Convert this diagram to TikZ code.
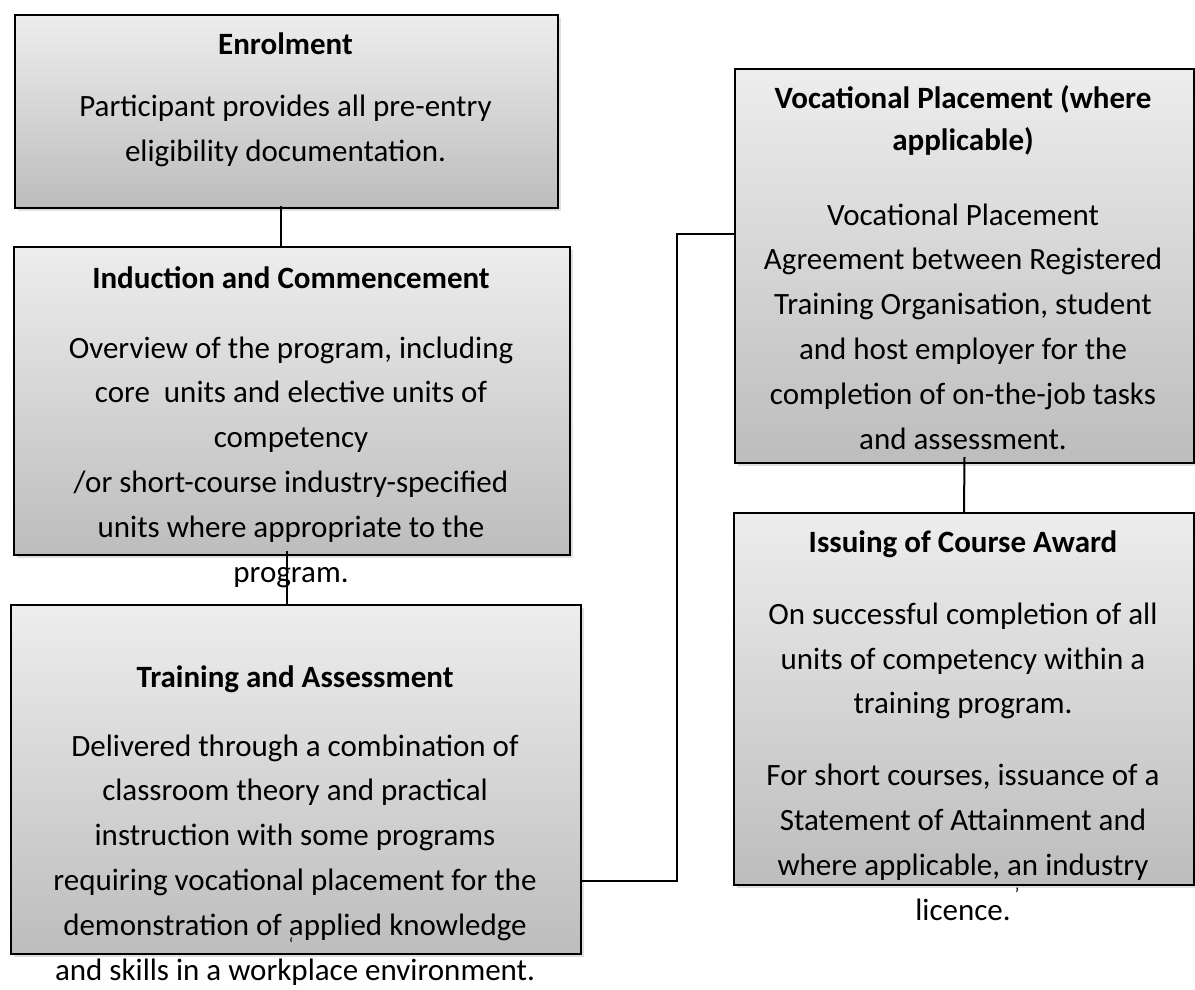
\documentclass[tikz,border=0pt]{standalone}
\usepackage{fontspec}
\setmainfont{Carlito}
\usetikzlibrary{shadows}

\begin{document}
\begin{tikzpicture}[x=1pt,y=-1pt,
  stage/.style={draw,line width=2pt,anchor=north west,inner sep=0,
    top color=black!7,bottom color=black!26,
    drop shadow={shadow xshift=3pt,shadow yshift=-3pt,opacity=.25}},
  head/.style={font=\bfseries\fontsize{31}{42}\selectfont,align=center,anchor=base,inner sep=0},
  body/.style={font=\fontsize{31}{44.8}\selectfont,align=center,anchor=base,inner sep=0},
  link/.style={line width=2pt}]
  \useasboundingbox (0,0) rectangle (1195,990);

  % boxes
  \node[stage,minimum width=543pt,minimum height=193pt] (enrol) at (14,14) {};
  \node[stage,minimum width=556pt,minimum height=308pt] (induct) at (13,246) {};
  \node[stage,minimum width=570pt,minimum height=349pt] (train) at (10,604) {};
  \node[stage,minimum width=459pt,minimum height=394pt] (voc) at (734,68) {};
  \node[stage,minimum width=460pt,minimum height=372pt] (award) at (733,512) {};

  % connectors
  \draw[link] ([xshift=-5.5pt,yshift=3pt]enrol.south) -- ([xshift=-5.5pt]enrol.south |- induct.north);
  \draw[link] ([xshift=-5pt,yshift=5pt]induct.south) -- ([xshift=-5pt]induct.south |- train.north);
  \coordinate (knee) at (677,881);
  \draw[link] (train.east |- knee) -- (knee) |- ([yshift=32pt]voc.west);
  \draw[link] ([yshift=7pt]voc.south) -- (award.north);

  % texts (multi-line nodes sit on their last baseline)
  \node[head] (enrolT) at (285.5,55) {Enrolment};
  \node[body] (enrolB) at (285.5,161) {Participant provides all pre-entry\\eligibility documentation.};

  \node[head] (inductT) at (291,288) {Induction and Commencement};
  \node[body] (inductB) at (291,582) {Overview of the program, including\\core~ units and elective units of\\competency\\/or short-course industry-specified\\units where appropriate to the\\program.};

  \node[head] (trainT) at (295,687) {Training and Assessment};
  \node[body] (trainB) at (295,980) {Delivered through a combination of\\classroom theory and practical\\instruction with some programs\\requiring vocational placement for the\\demonstration of applied knowledge\\and skills in a workplace environment.};

  \node[head] (vocT) at (963,150) {Vocational Placement (where\\applicable)};
  \node[body] (vocB) at (963,449) {Vocational Placement\\Agreement between Registered\\Training Organisation, student\\and host employer for the\\completion of on-the-job tasks\\and assessment.};

  \node[head] (awardT) at (963,552) {Issuing of Course Award};
  \node[body] (awardB) at (963,920) {On successful completion of all\\units of competency within a\\training program.\\[27pt]For short courses, issuance of a\\Statement of Attainment and\\where applicable, an industry\\licence.};

  % stray marks
  \node[body,font=\fontsize{18}{18}\selectfont] (markA) at (291,950) {`};
  \node[body,font=\fontsize{18}{18}\selectfont] (markB) at (1017,900) {’};
\end{tikzpicture}
\end{document}
